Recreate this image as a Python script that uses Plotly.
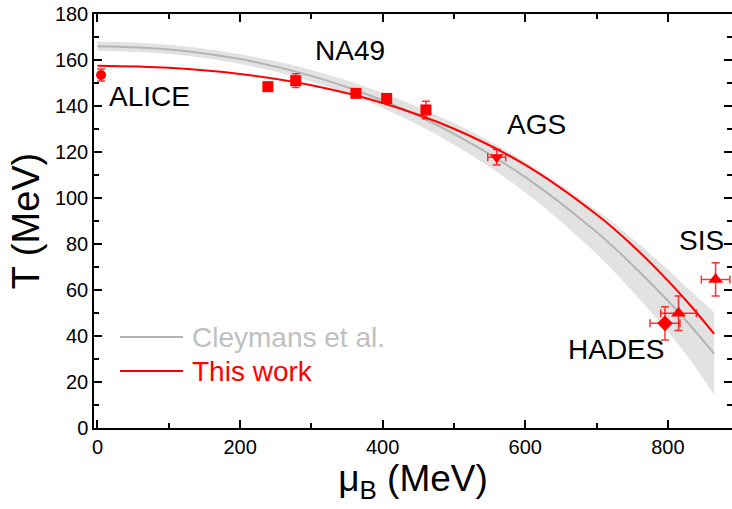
import plotly.graph_objects as go

# Chemical freeze-out points (mu_B, T) in MeV
alice_mu = [5.0]
alice_T = [153.5]
alice_dT = [2.6]

na49_mu = [239.0, 278.0, 362.5, 405.6, 460.7]
na49_T = [148.4, 151.0, 145.5, 143.3, 138.3]
na49_dT = [1.2, 3.0, 1.3, 1.3, 3.8]

ags_mu = [560.0]
ags_T = [117.7]
ags_dmu = [12.6]
ags_dT = [3.4]

hades_mu = [796.0]
hades_T = [45.5]
hades_dmu = [21.0]
hades_dT = [7.2]

sis_mu = [815.0, 867.0]
sis_T = [49.9, 64.6]
sis_dmu = [25.0, 20.0]
sis_dT = [7.5, 7.2]

# Freeze-out curves sampled along mu_B
curve_mu = [0, 100, 200, 300, 400, 500, 600, 700, 750, 800, 830, 865]
cleymans_T = [166.0, 164.6, 160.4, 153.1, 142.4, 127.9, 109.1, 85.2, 71.0, 55.3, 45.1, 32.3]
cleymans_hi = [168.0, 166.6, 162.5, 155.6, 145.7, 132.6, 115.8, 94.7, 82.4, 68.8, 60.1, 50.3]
cleymans_lo = [164.0, 162.6, 158.3, 150.6, 139.1, 123.2, 102.4, 75.7, 59.6, 41.8, 30.1, 14.3]
this_work_T = [157.5, 156.6, 153.9, 149.0, 141.3, 130.1, 114.4, 92.8, 79.5, 64.1, 53.9, 40.9]

FONT = "Liberation Sans, Arial, sans-serif"
RED = "#ff0000"
GRAY = "#b4b4b4"
BAND = "#e2e2e2"
ERR_RED = "rgba(255,0,0,0.8)"

fig = go.Figure()

# Uncertainty band of the Cleymans et al. parametrisation
fig.add_trace(go.Scatter(x=curve_mu, y=cleymans_lo, mode="lines",
                         line=dict(width=0, shape="spline", color=BAND),
                         showlegend=False, hoverinfo="skip"))
fig.add_trace(go.Scatter(x=curve_mu, y=cleymans_hi, mode="lines",
                         line=dict(width=0, shape="spline", color=BAND),
                         fill="tonexty", fillcolor=BAND,
                         showlegend=False, hoverinfo="skip"))
fig.add_trace(go.Scatter(x=curve_mu, y=cleymans_T, mode="lines",
                         line=dict(width=2, shape="spline", color=GRAY),
                         showlegend=False))
fig.add_trace(go.Scatter(x=curve_mu, y=this_work_T, mode="lines",
                         line=dict(width=2, shape="spline", color=RED),
                         showlegend=False))


def points(mu, T, dT, symbol, size, dmu=None):
    tr = dict(x=mu, y=T, mode="markers",
              marker=dict(symbol=symbol, size=size, color=RED),
              error_y=dict(type="data", array=dT, color=ERR_RED,
                           thickness=1.5, width=4),
              showlegend=False)
    if dmu is not None:
        tr["error_x"] = dict(type="data", array=dmu, color=ERR_RED,
                             thickness=1.5, width=4)
    return go.Scatter(**tr)


fig.add_trace(points(alice_mu, alice_T, alice_dT, "circle", 10,
                     dmu=[3.0]))
fig.add_trace(points(na49_mu, na49_T, na49_dT, "square", 11))
fig.add_trace(points(ags_mu, ags_T, ags_dT, "triangle-down", 12, ags_dmu))
fig.add_trace(points(hades_mu, hades_T, hades_dT, "diamond", 12, hades_dmu))
fig.add_trace(points(sis_mu, sis_T, sis_dT, "triangle-up", 13, sis_dmu))

# Empty trace so the right-hand tick axis is drawn
fig.add_trace(go.Scatter(x=[], y=[], yaxis="y2", showlegend=False))

# Experiment labels
labels = [("ALICE", 13.5, 144.0), ("NA49", 302.0, 164.0), ("AGS", 571.5, 132.0),
          ("SIS", 812.6, 81.7), ("HADES", 657.0, 34.3)]
for text, lx, ly in labels:
    fig.add_annotation(x=lx, y=ly, text=text, showarrow=False,
                       xanchor="left", yanchor="middle",
                       font=dict(family=FONT, size=28, color="black"))

# Legend drawn by hand: sample line plus coloured label
legend_items = [("Cleymans et al.", GRAY, "#c0c0c0", 337), ("This work", RED, RED, 371)]
for text, lcol, tcol, py in legend_items:
    yp = 1 - (py - 14) / 414
    fig.add_shape(type="line", xref="paper", yref="paper",
                  x0=(120 - 94) / 638, x1=(183 - 94) / 638, y0=yp, y1=yp,
                  line=dict(color=lcol, width=2))
    fig.add_annotation(xref="paper", yref="paper", x=(190 - 94) / 638, y=yp,
                       text=text, showarrow=False, xanchor="left",
                       yanchor="middle",
                       font=dict(family=FONT, size=28, color=tcol))

axis_common = dict(showline=True, linecolor="black", linewidth=1.5,
                   ticks="inside", tickcolor="black", tickwidth=1.5,
                   showgrid=False, zeroline=False,
                   tickfont=dict(family=FONT, size=20, color="black"))

fig.update_layout(
    width=732, height=509,
    margin=dict(l=94, r=0, t=14, b=81),
    paper_bgcolor="white", plot_bgcolor="white",
    showlegend=False,
    xaxis=dict(range=[-4.9, 890], dtick=200, tick0=0, ticklen=8,
               mirror="ticks",
               minor=dict(dtick=100, ticks="inside", ticklen=5,
                          tickcolor="black", tickwidth=1.5),
               title=dict(text="μ<sub>B</sub> (MeV)", standoff=6,
                          font=dict(family=FONT, size=37, color="black")),
               **axis_common),
    yaxis=dict(range=[0, 180], dtick=20, tick0=0, ticklen=8,
               minor=dict(dtick=10, ticks="inside", ticklen=5,
                          tickcolor="black", tickwidth=1.5),
               title=dict(text="T (MeV)", standoff=4,
                          font=dict(family=FONT, size=38, color="black")),
               **axis_common),
    yaxis2=dict(overlaying="y", side="right", range=[0, 180], dtick=20,
                ticks="inside", ticklen=8, tickcolor="black", tickwidth=1.5,
                showticklabels=False, showgrid=False, zeroline=False,
                showline=False,
                minor=dict(dtick=10, ticks="inside", ticklen=5,
                           tickcolor="black", tickwidth=1.5)),
)

fig.write_html("out.html")
